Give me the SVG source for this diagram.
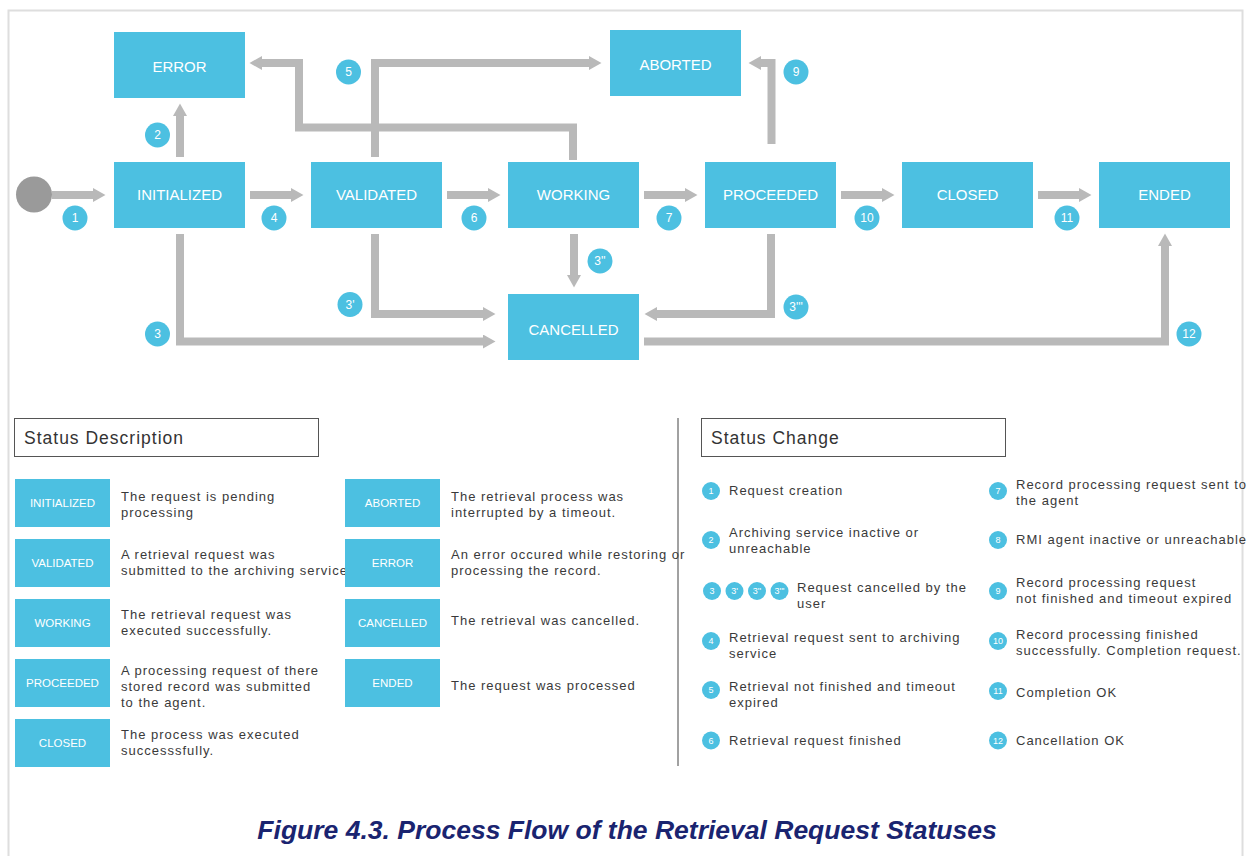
<svg xmlns="http://www.w3.org/2000/svg" width="1256" height="856" viewBox="0 0 1256 856">
<defs>
<style>
.node{fill:#4cc0e1}
.nt{font-family:"Liberation Sans",Arial,sans-serif;font-size:15px;fill:#fff;text-anchor:middle}
.conn{fill:none;stroke:#b9b9b9;stroke-width:8;stroke-linejoin:miter;marker-end:url(#ah)}
.lc{fill:#4cc0e1}
.lt{font-family:"Liberation Sans",Arial,sans-serif;font-size:12px;fill:#fff;text-anchor:middle}
.lbox{fill:#4cc0e1}
.lbt{font-family:"Liberation Sans",Arial,sans-serif;font-size:11.5px;fill:#fff;text-anchor:middle}
.desc{font-family:"Liberation Sans",Arial,sans-serif;font-size:13px;fill:#3a3a3a;letter-spacing:1px}
.hdr{fill:#fff;stroke:#555;stroke-width:1}
.hdrt{font-family:"Liberation Sans",Arial,sans-serif;font-size:17.5px;fill:#333;letter-spacing:1px}
.sc{fill:#4cc0e1}
.sct{font-family:"Liberation Sans",Arial,sans-serif;font-size:9px;fill:#fff;text-anchor:middle}
.title{font-family:"Liberation Sans",Arial,sans-serif;font-size:26.5px;font-weight:bold;font-style:italic;fill:#1a2470;text-anchor:middle}
</style>
<marker id="ah" markerUnits="userSpaceOnUse" markerWidth="13" markerHeight="14" refX="0" refY="7" orient="auto"><path d="M0,0 L12.5,7 L0,14 Z" fill="#b9b9b9"/></marker>
</defs>
<rect x="0" y="0" width="1256" height="856" fill="#fff"/>
<rect x="8.5" y="10.5" width="1234" height="870" fill="none" stroke="#dedede" stroke-width="2"/>

<g id="connectors">
<path class="conn" d="M52,195 H93"/>
<path class="conn" d="M180,157 V116"/>
<path class="conn" d="M250,195 H291"/>
<path class="conn" d="M447,195 H488"/>
<path class="conn" d="M644,195 H685"/>
<path class="conn" d="M841,195 H882"/>
<path class="conn" d="M1038,195 H1079"/>
<path class="conn" d="M375,157 V63 H589"/>
<path class="conn" d="M573,160 V127.5 H299 V63 H262"/>
<path class="conn" d="M771.5,144 V63 H761"/>
<path class="conn" d="M180,234 V341.5 H483"/>
<path class="conn" d="M375,234 V314 H483"/>
<path class="conn" d="M574,234 V275"/>
<path class="conn" d="M771,234 V314 H657"/>
<path class="conn" d="M644,341.5 H1165 V246"/>
</g>

<g id="start"><circle cx="34" cy="194.5" r="18" fill="#9a9a9a"/></g>

<g id="node-error"><rect class="node" x="114" y="32" width="131" height="66"/><text class="nt" x="179.5" y="72">ERROR</text></g>
<g id="node-aborted"><rect class="node" x="610" y="30" width="131" height="66"/><text class="nt" x="675.5" y="70">ABORTED</text></g>
<g id="node-initialized"><rect class="node" x="114" y="162" width="131" height="66"/><text class="nt" x="179.5" y="200">INITIALIZED</text></g>
<g id="node-validated"><rect class="node" x="311" y="162" width="131" height="66"/><text class="nt" x="376.5" y="200">VALIDATED</text></g>
<g id="node-working"><rect class="node" x="508" y="162" width="131" height="66"/><text class="nt" x="573.5" y="200">WORKING</text></g>
<g id="node-proceeded"><rect class="node" x="705" y="162" width="131" height="66"/><text class="nt" x="770.5" y="200">PROCEEDED</text></g>
<g id="node-closed"><rect class="node" x="902" y="162" width="131" height="66"/><text class="nt" x="967.5" y="200">CLOSED</text></g>
<g id="node-ended"><rect class="node" x="1099" y="162" width="131" height="66"/><text class="nt" x="1164.5" y="200">ENDED</text></g>
<g id="node-cancelled"><rect class="node" x="508" y="294" width="131" height="66"/><text class="nt" x="573.5" y="334.5">CANCELLED</text></g>

<g id="labels">
<circle class="lc" cx="75" cy="218" r="12.5"/><text class="lt" x="75" y="222">1</text>
<circle class="lc" cx="157.5" cy="135" r="12.5"/><text class="lt" x="157.5" y="139">2</text>
<circle class="lc" cx="157.5" cy="334" r="12.5"/><text class="lt" x="157.5" y="338">3</text>
<circle class="lc" cx="350" cy="304.5" r="12.5"/><text class="lt" x="350" y="308.5">3'</text>
<circle class="lc" cx="600" cy="261" r="12.5"/><text class="lt" x="600" y="265">3''</text>
<circle class="lc" cx="796" cy="307" r="12.5"/><text class="lt" x="796" y="311">3'''</text>
<circle class="lc" cx="274" cy="218" r="12.5"/><text class="lt" x="274" y="222">4</text>
<circle class="lc" cx="348.5" cy="72" r="12.5"/><text class="lt" x="348.5" y="76">5</text>
<circle class="lc" cx="474" cy="218" r="12.5"/><text class="lt" x="474" y="222">6</text>
<circle class="lc" cx="669" cy="218" r="12.5"/><text class="lt" x="669" y="222">7</text>
<circle class="lc" cx="796" cy="72" r="12.5"/><text class="lt" x="796" y="76">9</text>
<circle class="lc" cx="867" cy="218" r="12.5"/><text class="lt" x="867" y="222">10</text>
<circle class="lc" cx="1067" cy="218" r="12.5"/><text class="lt" x="1067" y="222">11</text>
<circle class="lc" cx="1189" cy="334" r="12.5"/><text class="lt" x="1189" y="338">12</text>
</g>

<g id="status-description">
<rect class="hdr" x="14.5" y="418.5" width="304" height="38"/>
<text class="hdrt" x="24" y="444">Status Description</text>
<rect class="lbox" x="15" y="479" width="95" height="48"/><text class="lbt" x="62.5" y="507">INITIALIZED</text>
<text class="desc" x="121" y="501">The request is pending</text><text class="desc" x="121" y="517">processing</text>
<rect class="lbox" x="15" y="539" width="95" height="48"/><text class="lbt" x="62.5" y="567">VALIDATED</text>
<text class="desc" x="121" y="559">A retrieval request was</text><text class="desc" x="121" y="575">submitted to the archiving service</text>
<rect class="lbox" x="15" y="599" width="95" height="48"/><text class="lbt" x="62.5" y="627">WORKING</text>
<text class="desc" x="121" y="619">The retrieval request was</text><text class="desc" x="121" y="635">executed successfully.</text>
<rect class="lbox" x="15" y="659" width="95" height="48"/><text class="lbt" x="62.5" y="687">PROCEEDED</text>
<text class="desc" x="121" y="675">A processing request of there</text><text class="desc" x="121" y="691">stored record was submitted</text><text class="desc" x="121" y="707">to the agent.</text>
<rect class="lbox" x="15" y="719" width="95" height="48"/><text class="lbt" x="62.5" y="747">CLOSED</text>
<text class="desc" x="121" y="739">The process was executed</text><text class="desc" x="121" y="755">successsfully.</text>
<rect class="lbox" x="345" y="479" width="95" height="48"/><text class="lbt" x="392.5" y="507">ABORTED</text>
<text class="desc" x="451" y="501">The retrieval process was</text><text class="desc" x="451" y="517">interrupted by a timeout.</text>
<rect class="lbox" x="345" y="539" width="95" height="48"/><text class="lbt" x="392.5" y="567">ERROR</text>
<text class="desc" x="451" y="559">An error occured while restoring or</text><text class="desc" x="451" y="575">processing the record.</text>
<rect class="lbox" x="345" y="599" width="95" height="48"/><text class="lbt" x="392.5" y="627">CANCELLED</text>
<text class="desc" x="451" y="625">The retrieval was cancelled.</text>
<rect class="lbox" x="345" y="659" width="95" height="48"/><text class="lbt" x="392.5" y="687">ENDED</text>
<text class="desc" x="451" y="690">The request was processed</text>
</g>

<line x1="678" y1="418" x2="678" y2="766" stroke="#444" stroke-width="1"/>

<g id="status-change">
<rect class="hdr" x="701.5" y="418.5" width="304" height="38"/>
<text class="hdrt" x="711" y="444">Status Change</text>
<circle class="sc" cx="711" cy="491" r="9"/><text class="sct" x="711" y="494">1</text>
<text class="desc" x="729" y="495">Request creation</text>
<circle class="sc" cx="711" cy="540" r="9"/><text class="sct" x="711" y="543">2</text>
<text class="desc" x="729" y="537">Archiving service inactive or</text><text class="desc" x="729" y="553">unreachable</text>
<circle class="sc" cx="712" cy="591" r="9"/><text class="sct" x="712" y="594">3</text>
<circle class="sc" cx="734.5" cy="591" r="9"/><text class="sct" x="734.5" y="594">3'</text>
<circle class="sc" cx="757" cy="591" r="9"/><text class="sct" x="757" y="594">3''</text>
<circle class="sc" cx="779.5" cy="591" r="9"/><text class="sct" x="779.5" y="594">3'''</text>
<text class="desc" x="797" y="592">Request cancelled by the</text><text class="desc" x="797" y="608">user</text>
<circle class="sc" cx="711" cy="641" r="9"/><text class="sct" x="711" y="644">4</text>
<text class="desc" x="729" y="642">Retrieval request sent to archiving</text><text class="desc" x="729" y="658">service</text>
<circle class="sc" cx="711" cy="690" r="9"/><text class="sct" x="711" y="693">5</text>
<text class="desc" x="729" y="691">Retrieval not finished and timeout</text><text class="desc" x="729" y="707">expired</text>
<circle class="sc" cx="711" cy="740.5" r="9"/><text class="sct" x="711" y="743.5">6</text>
<text class="desc" x="729" y="745">Retrieval request finished</text>
<circle class="sc" cx="998" cy="491" r="9"/><text class="sct" x="998" y="494">7</text>
<text class="desc" x="1016" y="489">Record processing request sent to</text><text class="desc" x="1016" y="505">the agent</text>
<circle class="sc" cx="998" cy="540" r="9"/><text class="sct" x="998" y="543">8</text>
<text class="desc" x="1016" y="544">RMI agent inactive or unreachable</text>
<circle class="sc" cx="998" cy="591" r="9"/><text class="sct" x="998" y="594">9</text>
<text class="desc" x="1016" y="587">Record processing request</text><text class="desc" x="1016" y="603">not finished and timeout expired</text>
<circle class="sc" cx="998" cy="641" r="9"/><text class="sct" x="998" y="644">10</text>
<text class="desc" x="1016" y="639">Record processing finished</text><text class="desc" x="1016" y="655">successfully. Completion request.</text>
<circle class="sc" cx="998" cy="691" r="9"/><text class="sct" x="998" y="694">11</text>
<text class="desc" x="1016" y="697">Completion OK</text>
<circle class="sc" cx="998" cy="740.5" r="9"/><text class="sct" x="998" y="743.5">12</text>
<text class="desc" x="1016" y="745">Cancellation OK</text>
</g>

<text class="title" x="627" y="839">Figure 4.3. Process Flow of the Retrieval Request Statuses</text>
</svg>
